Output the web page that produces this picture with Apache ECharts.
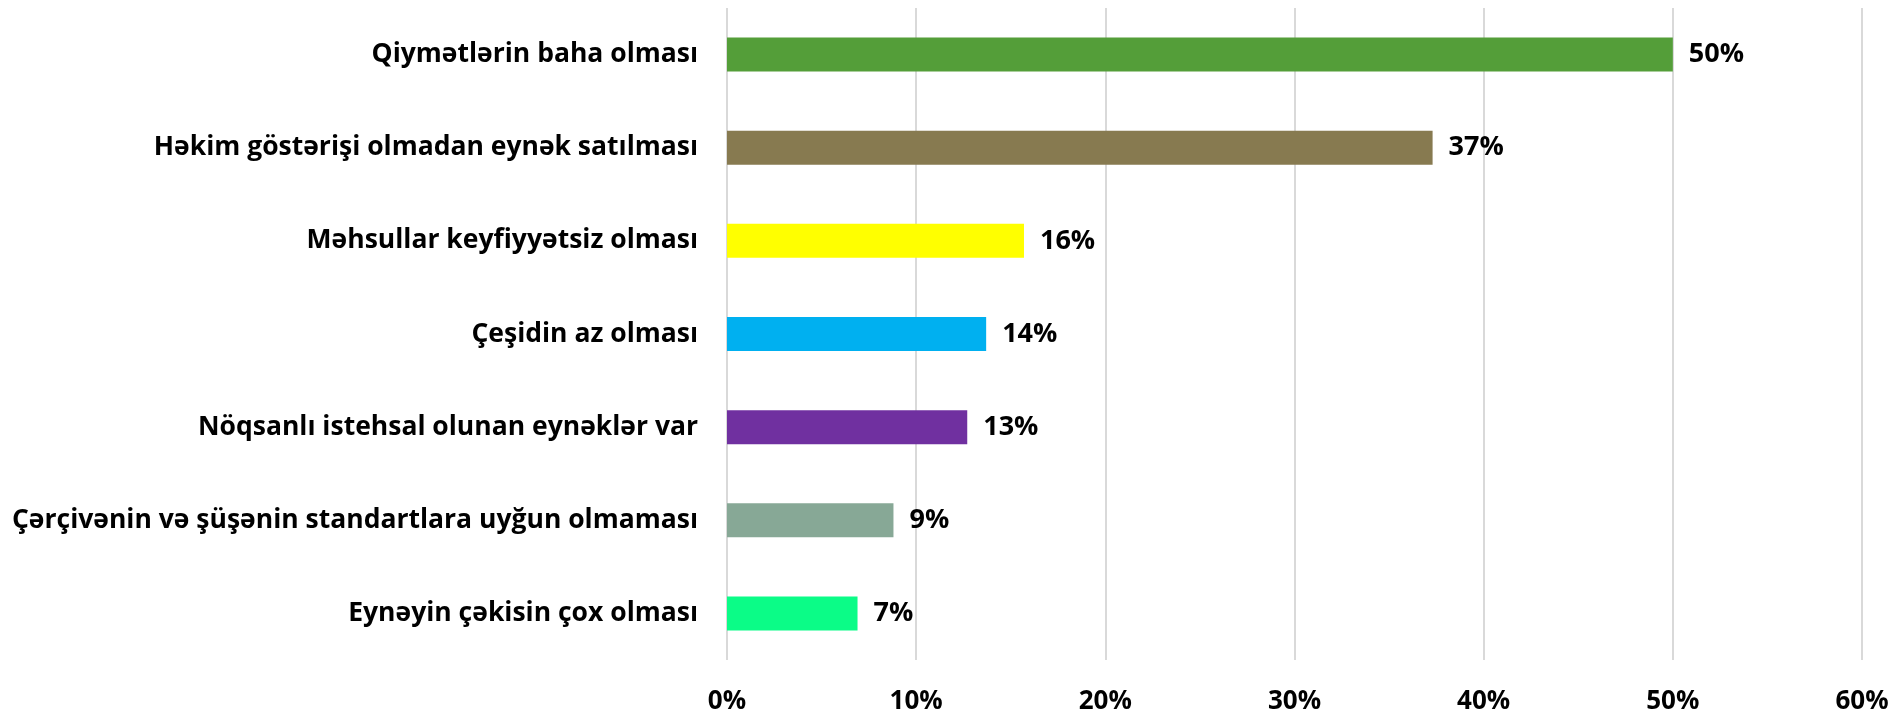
<!DOCTYPE html>
<html>
<head>
<meta charset="utf-8">
<script src="https://cdn.jsdelivr.net/npm/echarts@6/dist/echarts.min.js"></script>
<style>
html, body { margin: 0; padding: 0; background: #fff; }
#main { width: 1897px; height: 715px; }
</style>
</head>
<body>
<div id="main"></div>
<script>
var categories = [
	'Qiymətlərin baha olması',
	'Həkim göstərişi olmadan eynək satılması',
	'Məhsullar keyfiyyətsiz olması',
	'Çeşidin az olması',
	'Nöqsanlı istehsal olunan eynəklər var',
	'Çərçivənin və şüşənin standartlara uyğun olmaması',
	'Eynəyin çəkisin çox olması'
];
var values = [0.50, 0.373, 0.157, 0.137, 0.127, 0.088, 0.069];
var barColors = ['#549E39', '#877A50', '#FFFF00', '#00B0F0', '#7030A0', '#87A896', '#0BFC87'];
var tickMax = 0.6;
var tickStep = 0.1;

var font = '"Open Sans", "Noto Sans", sans-serif';
var chart = echarts.init(document.getElementById('main'));

var option = {
	animation: false,
	grid: {
		left: 727,
		right: 35,
		top: 8,
		bottom: 54,
		containLabel: false
	},
	xAxis: {
		type: 'value',
		min: 0,
		max: tickMax,
		interval: tickStep,
		axisLine: { show: false },
		axisTick: { show: false },
		splitLine: { show: true, lineStyle: { color: '#d9d9d9', width: 2 } },
		axisLabel: {
			margin: 29,
			color: '#000',
			fontFamily: font,
			fontWeight: 'bold',
			fontSize: 26,
			formatter: function (v) { return Math.round(v * 100) + '%'; }
		}
	},
	yAxis: {
		type: 'category',
		inverse: true,
		data: categories,
		axisLine: { show: false },
		axisTick: { show: false },
		axisLabel: {
			margin: 29,
			color: '#000',
			fontFamily: font,
			fontWeight: 'bold',
			fontSize: 26.5,
			padding: [4, 0, 0, 0]
		}
	},
	series: [{
		type: 'bar',
		barWidth: 34,
		data: values.map(function (v, i) {
			return { value: v, itemStyle: { color: barColors[i] } };
		}),
		label: {
			show: true,
			position: 'right',
			distance: 16,
			color: '#000',
			fontFamily: font,
			fontWeight: 'bold',
			fontSize: 27,
			formatter: function (p) { return Math.round(p.value * 100) + '%'; }
		}
	}]
};
chart.setOption(option);
</script>
</body>
</html>
